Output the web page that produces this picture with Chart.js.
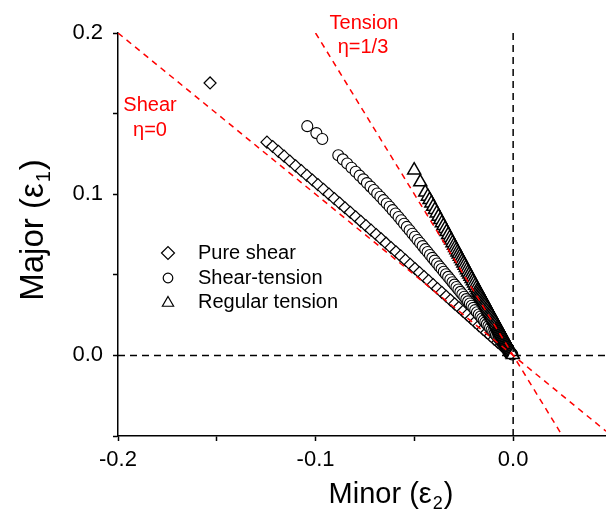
<!DOCTYPE html>
<html>
<head>
<meta charset="utf-8">
<script src="https://cdn.jsdelivr.net/npm/chart.js"></script>
<style>
html,body{margin:0;padding:0;background:#fff;}
</style>
</head>
<body>
<canvas id="strainChart" width="606" height="514"></canvas>
<script>
// minor strain (x) and major strain (y)
var pureShearX=[-0.1534,-0.1246,-0.1217,-0.1188,-0.1159,-0.1130,-0.1101,-0.1072,-0.1044,-0.1016,-0.0988,-0.0960,-0.0932,-0.0905,-0.0878,-0.0851,-0.0824,-0.0797,-0.0771,-0.0745,-0.0719,-0.0693,-0.0668,-0.0643,-0.0618,-0.0593,-0.0569,-0.0545,-0.0521,-0.0497,-0.0474,-0.0451,-0.0428,-0.0405,-0.0383,-0.0361,-0.0339,-0.0317,-0.0296,-0.0275,-0.0254,-0.0233,-0.0213,-0.0193,-0.0173,-0.0153,-0.0134,-0.0115,-0.0096,-0.0078,-0.0060,-0.0043,-0.0027,-0.0012];
var pureShearY=[0.1690,0.1323,0.1296,0.1266,0.1236,0.1206,0.1176,0.1146,0.1117,0.1088,0.1059,0.1030,0.1001,0.0973,0.0945,0.0916,0.0888,0.0860,0.0832,0.0805,0.0777,0.0750,0.0723,0.0696,0.0669,0.0643,0.0617,0.0591,0.0565,0.0539,0.0514,0.0489,0.0464,0.0439,0.0415,0.0391,0.0367,0.0343,0.0320,0.0297,0.0274,0.0251,0.0229,0.0207,0.0185,0.0163,0.0142,0.0122,0.0101,0.0082,0.0063,0.0045,0.0028,0.0012];

var shearTensionX=[-0.1042,-0.0996,-0.0966,-0.0885,-0.0862,-0.0840,-0.0818,-0.0797,-0.0777,-0.0758,-0.0740,-0.0722,-0.0705,-0.0688,-0.0672,-0.0656,-0.0640,-0.0625,-0.0610,-0.0595,-0.0580,-0.0566,-0.0552,-0.0538,-0.0524,-0.0510,-0.0497,-0.0484,-0.0471,-0.0458,-0.0445,-0.0433,-0.0421,-0.0409,-0.0397,-0.0385,-0.0373,-0.0362,-0.0351,-0.0340,-0.0329,-0.0318,-0.0307,-0.0297,-0.0287,-0.0277,-0.0267,-0.0257,-0.0247,-0.0237,-0.0228,-0.0219,-0.0210,-0.0201,-0.0192,-0.0183,-0.0174,-0.0165,-0.0157,-0.0149,-0.0141,-0.0133,-0.0125,-0.0117,-0.0109,-0.0101,-0.0094,-0.0087,-0.0080,-0.0073,-0.0066,-0.0059,-0.0052,-0.0046,-0.0040,-0.0034,-0.0028,-0.0022,-0.0017,-0.0012,-0.0008,-0.0004];
var shearTensionY=[0.1422,0.1379,0.1342,0.1242,0.1216,0.1190,0.1164,0.1139,0.1115,0.1092,0.1069,0.1047,0.1026,0.1004,0.0984,0.0963,0.0942,0.0922,0.0901,0.0880,0.0859,0.0838,0.0817,0.0797,0.0776,0.0755,0.0736,0.0716,0.0697,0.0678,0.0659,0.0641,0.0623,0.0605,0.0588,0.0570,0.0552,0.0536,0.0519,0.0503,0.0487,0.0471,0.0454,0.0439,0.0424,0.0409,0.0394,0.0379,0.0364,0.0349,0.0335,0.0322,0.0308,0.0295,0.0281,0.0268,0.0254,0.0241,0.0229,0.0217,0.0205,0.0194,0.0182,0.0170,0.0158,0.0147,0.0136,0.0126,0.0116,0.0106,0.0096,0.0085,0.0075,0.0066,0.0058,0.0049,0.0040,0.0032,0.0024,0.0017,0.0011,0.0006];

var tensionX=[-0.0501,-0.0470,-0.0445,-0.0432,-0.0423,-0.0414,-0.0405,-0.0396,-0.0387,-0.0378,-0.0369,-0.0361,-0.0353,-0.0345,-0.0337,-0.0329,-0.0321,-0.0314,-0.0307,-0.0300,-0.0294,-0.0288,-0.0282,-0.0276,-0.0270,-0.0264,-0.0258,-0.0252,-0.0246,-0.0240,-0.0234,-0.0228,-0.0222,-0.0216,-0.0210,-0.0204,-0.0198,-0.0192,-0.0186,-0.0180,-0.0176,-0.0172,-0.0168,-0.0164,-0.0160,-0.0156,-0.0152,-0.0148,-0.0144,-0.0140,-0.0136,-0.0132,-0.0128,-0.0124,-0.0120,-0.0116,-0.0112,-0.0108,-0.0104,-0.0100,-0.0096,-0.0092,-0.0088,-0.0084,-0.0080,-0.0077,-0.0074,-0.0071,-0.0068,-0.0065,-0.0062,-0.0059,-0.0056,-0.0053,-0.0050,-0.0047,-0.0044,-0.0041,-0.0038,-0.0035,-0.0032,-0.0029,-0.0026,-0.0023,-0.0020,-0.0017,-0.0014,-0.0011,-0.0008,-0.0005,-0.0002];
var tensionY=[0.1149,0.1075,0.1012,0.0986,0.0965,0.0944,0.0923,0.0903,0.0882,0.0861,0.0841,0.0822,0.0804,0.0786,0.0767,0.0748,0.0730,0.0714,0.0698,0.0682,0.0668,0.0654,0.0640,0.0627,0.0613,0.0599,0.0585,0.0571,0.0558,0.0544,0.0530,0.0516,0.0503,0.0489,0.0475,0.0461,0.0448,0.0434,0.0420,0.0407,0.0398,0.0388,0.0379,0.0370,0.0361,0.0352,0.0343,0.0334,0.0325,0.0316,0.0307,0.0297,0.0288,0.0279,0.0270,0.0261,0.0252,0.0243,0.0234,0.0225,0.0216,0.0207,0.0198,0.0189,0.0180,0.0173,0.0166,0.0159,0.0153,0.0146,0.0139,0.0132,0.0125,0.0119,0.0112,0.0105,0.0099,0.0092,0.0085,0.0078,0.0072,0.0065,0.0058,0.0051,0.0045,0.0038,0.0031,0.0025,0.0018,0.0011,0.0004];

// reference lines
var shearLineX=[-0.2,0.047];
var shearLineY=[0.2,-0.047];
var tensionLineX=[-0.1,0.025];
var tensionLineY=[0.2,-0.05];
var zeroVertX=[0,0];
var zeroVertY=[-0.05,0.2];
var zeroHorizX=[-0.2,0.047];
var zeroHorizY=[0,0];

var xTicks=[-0.2,-0.15,-0.1,-0.05,0];
var xTickLabels=["-0.2","","-0.1","","0.0"];
var yTicks=[-0.05,0,0.05,0.1,0.15,0.2];
var yTickLabels=["","0.0","","0.1","","0.2"];

var seriesNames=["Pure shear","Shear-tension","Regular tension"];

var FONT="'Liberation Sans', Arial, sans-serif";

function pts(xs,ys){
	var out=[];
	for(var i=0;i<xs.length;i++){
		out.push({x:xs[i],y:ys[i]});
	}
	return out;
}

function marker(ctx,style,x,y,r){
	ctx.beginPath();
	if(style=="rectRot"){
		ctx.moveTo(x-r,y);ctx.lineTo(x,y-r);ctx.lineTo(x+r,y);ctx.lineTo(x,y+r);ctx.closePath();
	}else if(style=="circle"){
		ctx.arc(x,y,r,0,Math.PI*2);
	}else{
		ctx.moveTo(x,y-r);ctx.lineTo(x+r*0.866,y+r*0.5);ctx.lineTo(x-r*0.866,y+r*0.5);ctx.closePath();
	}
	ctx.fillStyle="#fff";
	ctx.fill();
	ctx.lineWidth=1.2;
	ctx.strokeStyle="#000";
	ctx.stroke();
}

// text with a subscript, centred on x
function subText(ctx,head,sub,tail,x,y,size){
	ctx.font=size+"px "+FONT;
	var w1=ctx.measureText(head).width;
	var w3=ctx.measureText(tail).width;
	ctx.font=Math.round(size*0.62)+"px "+FONT;
	var w2=ctx.measureText(sub).width;
	var start=x-(w1+w2+w3)/2;
	ctx.textAlign="left";
	ctx.textBaseline="alphabetic";
	ctx.font=size+"px "+FONT;
	ctx.fillText(head,start,y);
	ctx.font=Math.round(size*0.62)+"px "+FONT;
	ctx.fillText(sub,start+w1+1,y+size*0.22);
	ctx.font=size+"px "+FONT;
	ctx.fillText(tail,start+w1+w2+2,y);
}

var labelsPlugin={
	id:"labelsPlugin",
	afterDraw:function(chart){
		var ctx=chart.ctx;
		ctx.save();
		ctx.fillStyle="#000";
		subText(ctx,"Minor (\u03b5","2",")",390,503,29);
		ctx.save();
		ctx.translate(43,231);
		ctx.rotate(-Math.PI/2);
		subText(ctx,"Major (\u03b5","1",")",0,0,33);
		ctx.restore();

		ctx.fillStyle="#ff0000";
		ctx.font="20px "+FONT;
		ctx.textAlign="center";
		ctx.textBaseline="alphabetic";
		ctx.fillText("Shear",150,111);
		ctx.fillText("\u03b7=0",150,136);
		ctx.fillText("Tension",364,29);
		ctx.fillText("\u03b7=1/3",363,53);

		// legend
		var styles=["rectRot","circle","triangle"];
		var sizes=[6.5,4.8,6.5];
		var ly=[253,278,302];
		for(var i=0;i<3;i++){
			marker(ctx,styles[i],168,ly[i]+(i==2?1:0),sizes[i]);
			ctx.fillStyle="#000";
			ctx.font="20px "+FONT;
			ctx.textAlign="left";
			ctx.textBaseline="middle";
			ctx.fillText(seriesNames[i],198,ly[i]);
		}
		ctx.restore();
	}
};

var chart=new Chart(document.getElementById("strainChart").getContext("2d"),{
	type:"scatter",
	data:{
		datasets:[
			{label:"Shear line",data:pts(shearLineX,shearLineY),showLine:true,borderColor:"#ff0000",borderWidth:1.5,borderDash:[6,5],pointRadius:0,order:0},
			{label:"Tension line",data:pts(tensionLineX,tensionLineY),showLine:true,borderColor:"#ff0000",borderWidth:1.5,borderDash:[6,5],pointRadius:0,order:0},
			{label:"x0",data:pts(zeroVertX,zeroVertY),showLine:true,borderColor:"#000",borderWidth:1.5,borderDash:[7,5],pointRadius:0,order:1},
			{label:"y0",data:pts(zeroHorizX,zeroHorizY),showLine:true,borderColor:"#000",borderWidth:1.5,borderDash:[7,5],pointRadius:0,order:1},
			{label:seriesNames[2],data:pts(tensionX,tensionY),pointStyle:"triangle",pointRadius:7.5,backgroundColor:"#fff",borderColor:"#000",borderWidth:1.5,order:2},
			{label:seriesNames[1],data:pts(shearTensionX,shearTensionY),pointStyle:"circle",pointRadius:5.5,backgroundColor:"#fff",borderColor:"#000",borderWidth:1.1,order:3},
			{label:seriesNames[0],data:pts(pureShearX,pureShearY),pointStyle:"rectRot",pointRadius:6,backgroundColor:"#fff",borderColor:"#000",borderWidth:1.2,order:4}
		]
	},
	options:{
		responsive:false,
		animation:false,
		layout:{autoPadding:false,padding:{top:33,right:0,left:0,bottom:0}},
		plugins:{legend:{display:false},tooltip:{enabled:false}},
		scales:{
			x:{
				type:"linear",
				min:-0.2,
				max:0.047,
				afterFit:function(scale){scale.height=78;scale.paddingLeft=0;scale.paddingRight=0;},
				afterBuildTicks:function(scale){
					scale.ticks=xTicks.map(function(v){return {value:v};});
				},
				grid:{drawOnChartArea:false,drawTicks:true,tickLength:5,tickColor:"#000",tickWidth:1.5},
				border:{display:true,color:"#000",width:1.5},
				ticks:{
					color:"#000",
					font:{family:FONT,size:22},
					padding:6,
					maxRotation:0,
					autoSkip:false,
					callback:function(v,i){return xTickLabels[i];}
				}
			},
			y:{
				type:"linear",
				min:-0.05,
				max:0.2,
				afterFit:function(scale){scale.width=118;scale.paddingTop=0;scale.paddingBottom=0;},
				afterBuildTicks:function(scale){
					scale.ticks=yTicks.map(function(v){return {value:v};});
				},
				grid:{drawOnChartArea:false,drawTicks:true,tickLength:5,tickColor:"#000",tickWidth:1.5},
				border:{display:true,color:"#000",width:1.5},
				ticks:{
					color:"#000",
					font:{family:FONT,size:22},
					padding:10,
					autoSkip:false,
					callback:function(v,i){return yTickLabels[i];}
				}
			}
		}
	},
	plugins:[labelsPlugin]
});
</script>
</body>
</html>
